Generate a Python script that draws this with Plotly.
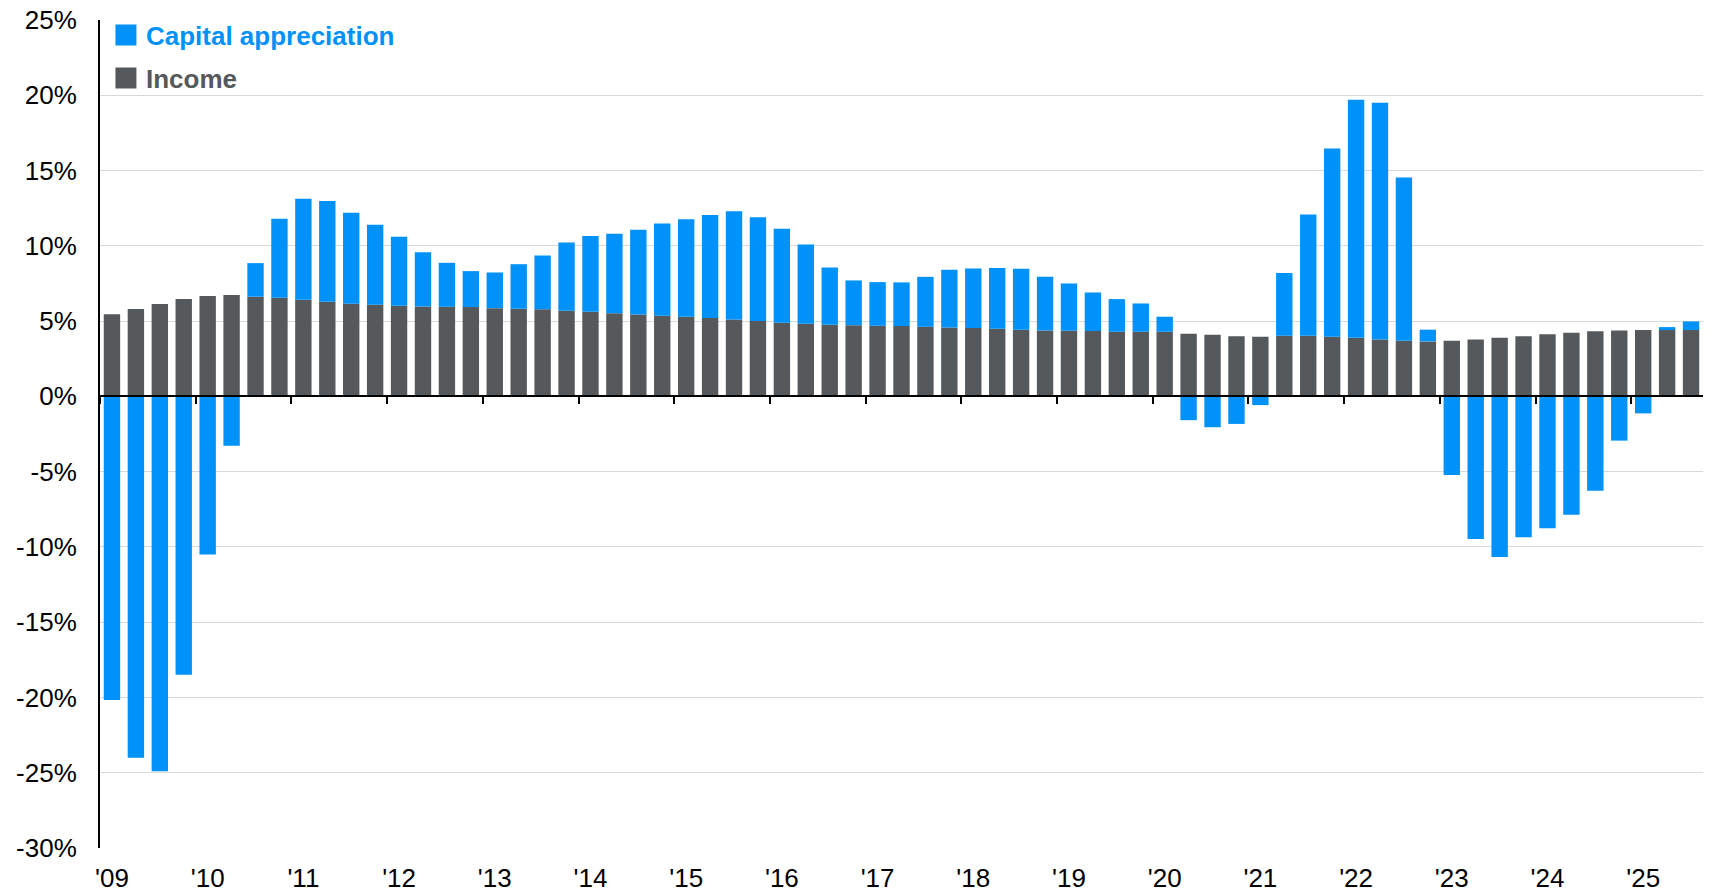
import plotly.graph_objects as go

quarters = [f"{y}Q{q}" for y in range(2009, 2026) for q in range(1, 5)][:67]
year_labels = ["'09", "'10", "'11", "'12", "'13", "'14", "'15", "'16", "'17",
               "'18", "'19", "'20", "'21", "'22", "'23", "'24", "'25"]
y_tick_values = [-30, -25, -20, -15, -10, -5, 0, 5, 10, 15, 20, 25]
y_tick_labels = ["-30%", "-25%", "-20%", "-15%", "-10%", "-5%", "0%", "5%",
                 "10%", "15%", "20%", "25%"]

income = [5.46, 5.80, 6.13, 6.46, 6.66, 6.73, 6.62, 6.55, 6.42, 6.28, 6.15, 6.08,
          6.02, 5.97, 5.95, 5.93, 5.86, 5.82, 5.78, 5.69, 5.62, 5.52, 5.44, 5.35,
          5.29, 5.20, 5.11, 5.00, 4.89, 4.82, 4.75, 4.73, 4.69, 4.67, 4.62, 4.58,
          4.54, 4.49, 4.42, 4.38, 4.36, 4.34, 4.29, 4.29, 4.29, 4.16, 4.09, 4.00,
          3.96, 4.03, 4.03, 3.96, 3.89, 3.78, 3.69, 3.65, 3.69, 3.78, 3.89, 4.00,
          4.12, 4.22, 4.32, 4.38, 4.40, 4.40, 4.41]

capital_appreciation = [-20.17, -24.00, -24.90, -18.50, -10.50, -3.28, 2.23, 5.25,
                        6.70, 6.69, 6.05, 5.32, 4.58, 3.61, 2.92, 2.39, 2.37, 2.96,
                        3.58, 4.53, 5.04, 5.28, 5.63, 6.14, 6.48, 6.84, 7.19, 6.90,
                        6.24, 5.27, 3.81, 2.97, 2.90, 2.90, 3.32, 3.83, 3.96, 4.03,
                        4.05, 3.56, 3.14, 2.56, 2.17, 1.88, 1.00, -1.58, -2.05, -1.83,
                        -0.58, 4.16, 8.05, 12.51, 15.81, 15.72, 10.85, 0.78, -5.22,
                        -9.47, -10.67, -9.36, -8.76, -7.86, -6.27, -2.94, -1.13, 0.20,
                        0.57]

BLUE = "#0091F9"
GRAY = "#55595C"
FONT = "Liberation Sans, Arial, sans-serif"

n = len(quarters)
xpos = list(range(n))
label_pos = [i for i in xpos if quarters[i].endswith("Q1")]
year_tick_pos = [p - 0.5 for p in label_pos]

fig = go.Figure()
fig.add_trace(go.Bar(x=xpos, y=income, marker=dict(color=GRAY, line=dict(width=0)),
                     name="Income", showlegend=False))
fig.add_trace(go.Bar(x=xpos, y=capital_appreciation,
                     marker=dict(color=BLUE, line=dict(width=0)),
                     name="Capital appreciation", showlegend=False))

# legend proxies (placed on the overlay axis so that it is drawn)
fig.add_trace(go.Scatter(x=[None], y=[None], mode="markers", xaxis="x2",
                         marker=dict(symbol="square", size=16, color=BLUE,
                                     line=dict(color=BLUE, width=5)),
                         name=f"<span style='color:{BLUE}'><b>Capital appreciation</b></span>",
                         legendgroup="a"))
fig.add_trace(go.Scatter(x=[None], y=[None], mode="markers", xaxis="x2",
                         marker=dict(symbol="square", size=16, color=GRAY,
                                     line=dict(color=GRAY, width=5)),
                         name=f"<span style='color:{GRAY}'><b>Income</b></span>",
                         legendgroup="b"))

fig.update_layout(
    width=1714, height=894,
    margin=dict(l=99.5, r=11, t=19.7, b=46, autoexpand=False),
    paper_bgcolor="white", plot_bgcolor="white",
    barmode="relative", bargap=0.315,
    font=dict(family=FONT, size=26, color="#000000"),
    showlegend=True,
    legend=dict(x=0.0037, y=1.01, xanchor="left", yanchor="top",
                bgcolor="rgba(0,0,0,0)", font=dict(size=26, family=FONT),
                traceorder="grouped", tracegroupgap=6, itemclick=False),
    xaxis=dict(range=[-0.5, n - 0.5], tickmode="array", tickvals=label_pos,
               ticktext=year_labels, ticks="", showgrid=False, showline=False,
               zeroline=False, ticklabelstandoff=12, automargin=False,
               tickfont=dict(size=26, family=FONT, color="#000")),
    xaxis2=dict(overlaying="x", anchor="free", position=30 / 55, side="bottom",
                range=[-0.5, n - 0.5], tickmode="array", tickvals=year_tick_pos,
                ticks="outside", ticklen=7, tickwidth=2, tickcolor="#000",
                showticklabels=False, showline=True, linecolor="#000", linewidth=2,
                showgrid=False, zeroline=False, automargin=False),
    yaxis=dict(range=[-30, 25.0001], tickmode="array", tickvals=y_tick_values,
               ticktext=y_tick_labels, showgrid=True, gridcolor="#D9D9D9", gridwidth=1,
               zeroline=False, showline=True, linecolor="#000", linewidth=2,
               ticks="", ticklabelstandoff=16, automargin=False,
               ticklabeloverflow="allow",
               tickfont=dict(size=26, family=FONT, color="#000")),
)

# remove the browser's default 8px page margin so the figure fills the window
fig.write_html("out.html",
               config={"displayModeBar": False},
               post_script="document.body.style.margin='0px';document.body.style.overflow='hidden';")
